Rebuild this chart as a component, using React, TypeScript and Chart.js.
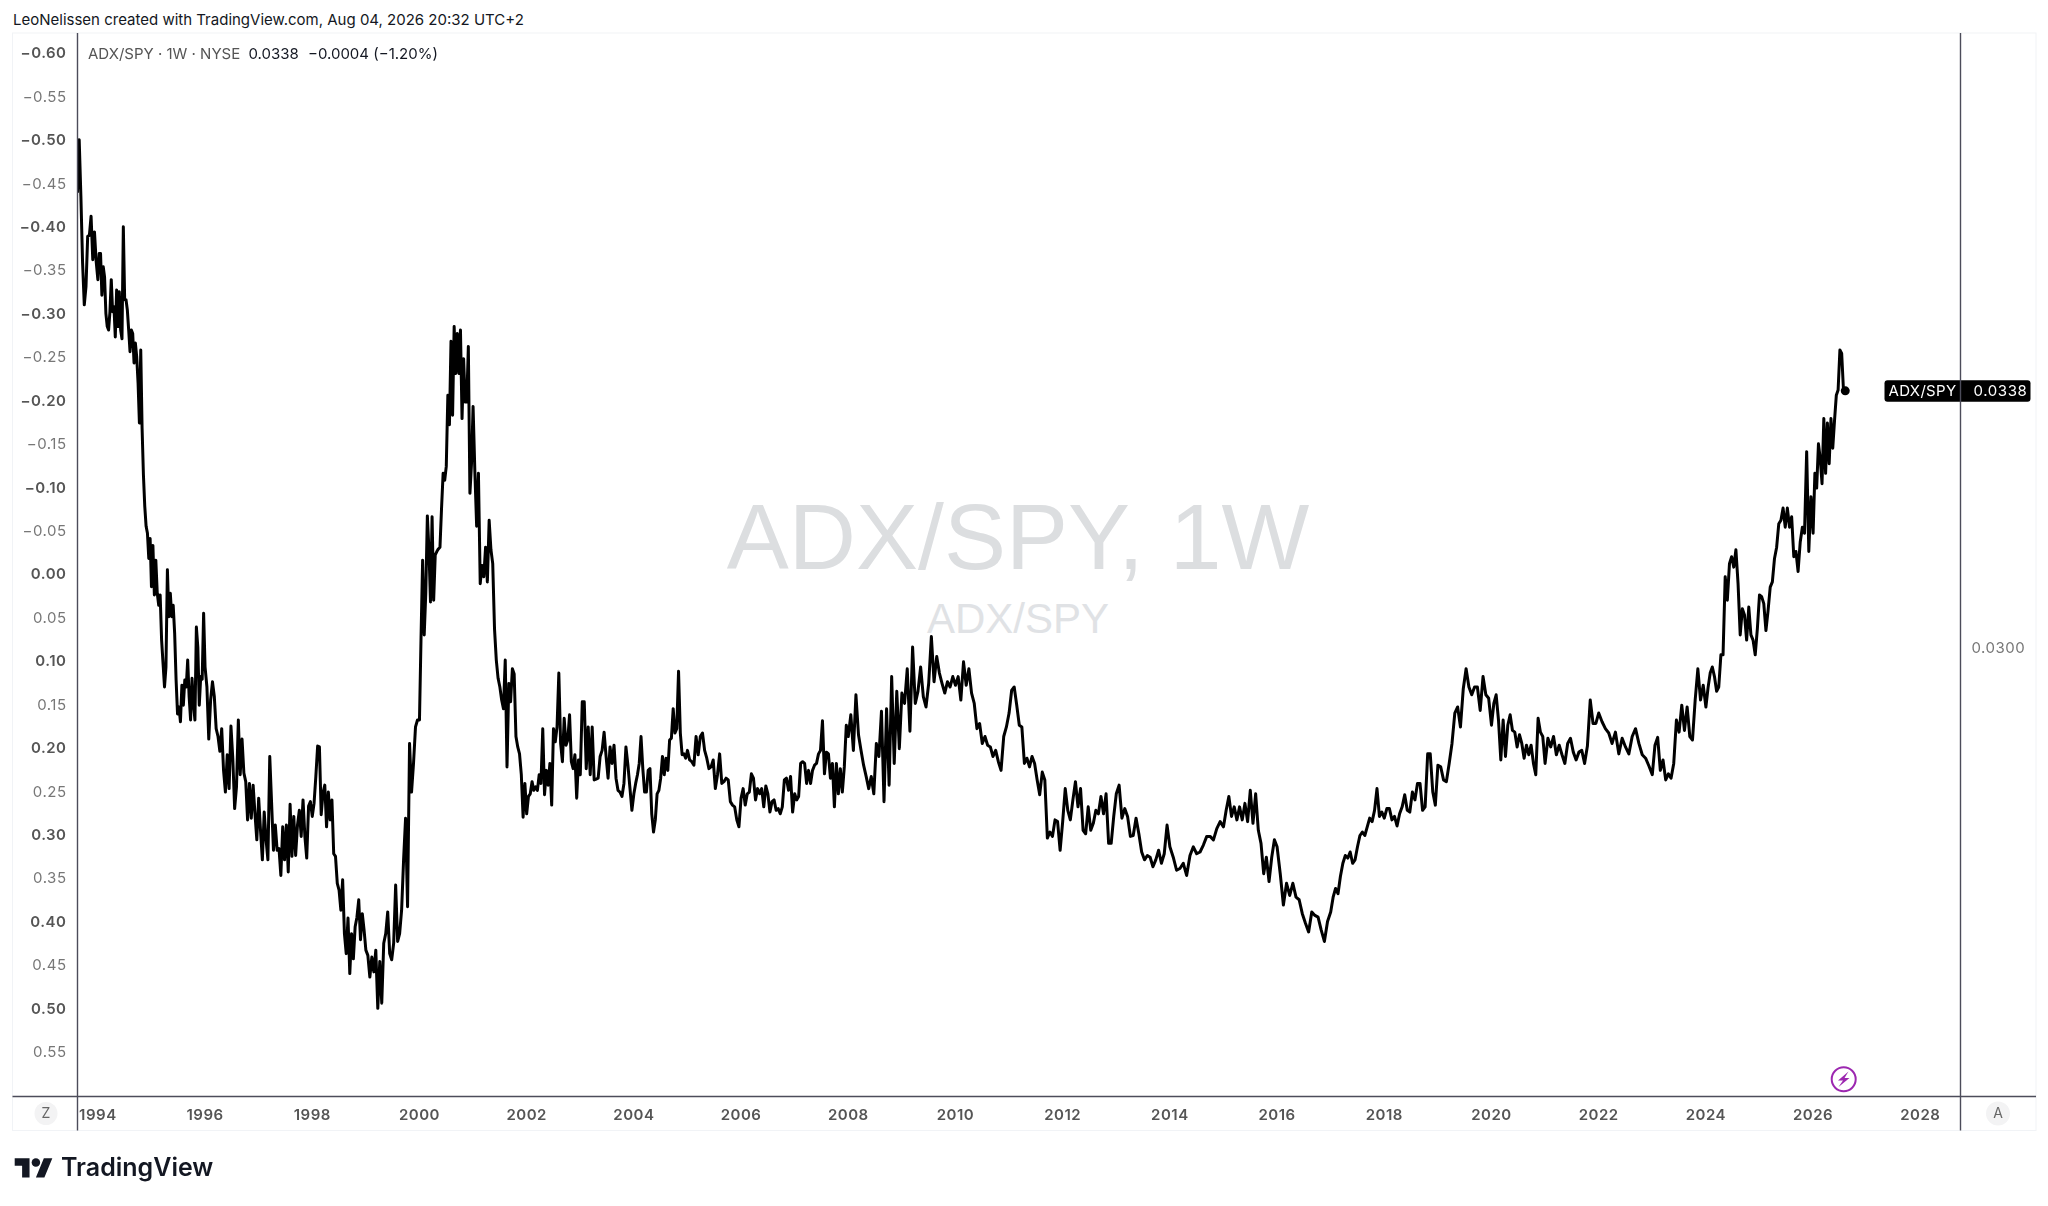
import React, { useEffect, useRef } from "react";
import { Chart, registerables } from "chart.js";

Chart.register(...registerables);

// Weekly ADX/SPY readings on the chart's left axis, grouped by year.
const v1993 = [-.44,-.501,-.436,-.359,-.311,-.332,-.39,-.391,-.413,-.363,-.395,-.361];
const v1994 = [-.34,-.37,-.37,-.322,-.355,-.343,-.301,-.286,-.282,-.303,-.34,-.303,-.309,-.274,-.328,-.286,-.326,-.282,-.272,-.401,-.317,-.317,-.305,-.282,-.257,-.282,-.278,-.244,-.267,-.251,-.221,-.175,-.259,-.169,-.115,-.079,-.056,-.048,-.019,-.042];
const v1995 = [.0135,-.034,.023,-.017,.021,.035,.023,.075,.102,.129,.106,-.006,.048,.021,.048,.035,.067,.121,.16,.152,.169,.127,.15,.121,.129,.098,.14,.167,.119,.148,.167,.06,.083,.15,.117,.12,.044];
const v1996 = [.106,.129,.189,.144,.123,.14,.177,.186,.203,.177,.225,.25,.207,.246,.174,.211,.269,.244,.167,.23,.189,.228,.238,.282,.24,.28,.242,.275,.305];
const v1997 = [.257,.294,.328,.273,.305,.328,.209,.263,.317,.288,.317,.315,.346,.29,.328,.288,.342,.264,.324,.278,.323,.288,.271,.301,.259,.301,.326,.266,.261];
const v1998 = [.278,.263,.232,.197,.198,.276,.251,.242,.29,.25,.282,.259,.321,.324,.355,.363,.386,.351,.413,.436,.395,.459,.413,.442,.405,.394,.374,.42,.39,.409];
const v1999 = [.432,.438,.463,.44,.457,.432,.499,.445,.493,.424,.413,.388,.436,.443,.424,.357,.422,.413,.386,.328,.28,.382,.194,.25,.217,.175,.167];
const v2000 = [.167,.071,-.017,.069,.021,-.068,-.029,.031,-.067,.029,-.023,-.027,-.03,-.032,-.077,-.117,-.109,-.125,-.207,-.173,-.269,-.184,-.286,-.232,-.278,-.232,-.282,-.18,-.249,-.199,-.199,-.263,-.094,-.128];
const v2001 = [-.194,-.119,-.056,-.117,.01,-.011,.002,-.032,.008,-.063,-.029,-.013,.062,.098,.119,.129,.144,.154,.098,.221,.125,.146,.108,.114,.186,.198,.206,.23,.279,.24];
const v2002 = [.275,.255,.252,.238,.248,.244,.248,.23,.24,.177,.253,.225,.242,.217,.265,.177,.192,.175,.113,.194,.215,.165,.196,.19,.161,.215,.223,.207,.257,.213];
const v2003 = [.23,.146,.146,.223,.175,.23,.175,.236,.235,.234,.209,.202,.181,.209,.234,.198,.217,.196,.234,.248,.25,.255,.24,.198,.219,.245,.271];
const v2004 = [.252,.24,.23,.217,.186,.223,.25,.25,.225,.223,.275,.296,.282,.252,.248,.234,.209,.23,.211,.225,.19,.188,.154,.182,.177,.111,.182,.207,.206,.211];
const v2005 = [.202,.213,.215,.219,.186,.207,.186,.182,.202,.211,.223,.221,.213,.246,.23,.206,.24,.238,.234,.236,.261,.265,.267,.282,.29];
const v2006 = [.257,.246,.265,.252,.25,.229,.234,.259,.246,.252,.246,.267,.243,.252,.273,.261,.259,.271,.269,.275,.267,.236,.234,.248,.232,.273];
const v2007 = [.252,.259,.255,.217,.215,.217,.24,.225,.24,.225,.219,.217,.206,.202,.168,.229,.204,.206,.234,.217,.267,.217,.252,.223,.25,.221,.173];
const v2008 = [.186,.161,.202,.138,.184,.202,.219,.232,.246,.232,.252,.194,.209,.157,.261,.154,.242,.117,.217,.134,.2];
const v2009 = [.136,.148,.108,.18,.083,.148,.134,.106,.14,.152,.125,.071,.123,.094,.113,.125,.136,.123,.129,.117];
const v2010 = [.127,.117,.144,.1,.127,.108,.136,.148,.177,.171,.194,.186,.196,.198,.209,.202,.215,.225,.186,.175];
const v2011 = [.159,.133,.129,.15,.173,.175,.217,.211,.221,.209,.217,.236,.253,.227,.236,.303,.296,.301,.282,.284,.317];
const v2012 = [.284,.246,.271,.282,.259,.238,.267,.246,.294,.298,.267,.294,.286,.271,.275,.255,.275,.252,.309,.309,.278];
const v2013 = [.252,.242,.28,.269,.278,.301,.3,.28,.298,.319,.328,.323,.325,.336,.328,.317,.332,.321,.288];
const v2014 = [.313,.325,.34,.338,.332,.346,.323,.313,.321,.319,.311,.301,.301,.305,.292,.284];
const v2015 = [.29,.271,.255,.278,.267,.282,.267,.282,.263,.284,.248,.286,.252,.294,.309,.344,.325,.353,.325,.305];
const v2016 = [.313,.344,.38,.355,.369,.355,.371,.374,.39,.401,.411,.388,.392,.394,.409,.422,.399];
const v2017 = [.388,.371,.361,.367,.347,.332,.323,.326,.319,.332,.328,.313,.3,.296,.3,.29,.28,.284,.271,.246,.278,.273];
const v2018 = [.28,.269,.269,.282,.278,.289,.275,.267,.253,.271,.273,.25,.259,.24,.24,.271,.267,.206,.206,.25,.265];
const v2019 = [.219,.221,.236,.238,.217,.194,.159,.152,.175,.131,.108,.129,.138,.129,.129,.156,.117,.138,.142];
const v2020 = [.173,.148,.138,.167,.213,.167,.209,.173,.161,.179,.181,.198,.184,.194,.211,.196,.207,.196,.217,.23,.165,.181,.186];
const v2021 = [.217,.188,.198,.186,.207,.196,.207,.217,.194,.188,.204,.213,.204,.202,.217,.197,.144,.171,.171];
const v2022 = [.159,.169,.177,.182,.194,.181,.206,.188,.198,.206,.186,.177,.194,.207,.211,.22];
const v2023 = [.23,.196,.187,.225,.213,.236,.229,.234,.217,.167,.181,.15,.179,.152,.186,.19,.144,.108,.144,.127];
const v2024 = [.152,.13,.113,.106,.117,.134,.129,.092,.092,.002,.029,-.013,-.021,-.009,-.029,.01,.069,.039,.046,.075,.037,.069,.075,.092,.062];
const v2025 = [.023,.025,.033,.064,.041,.014,.008,-.019,-.032,-.059,-.063,-.077,-.055,-.077,-.055,-.067,-.021,-.027,-.004,-.038,-.055,-.048,-.142,-.027,-.09];
const v2026 = [-.048,-.117,-.1,-.151,-.134,-.105,-.18,-.117,-.175,-.128,-.18,-.146,-.178,-.207,-.213,-.259,-.255,-.213,-.212];

const yearlyValues: [number, number[]][] = [
  [1993, v1993],[1994, v1994],[1995, v1995],[1996, v1996],[1997, v1997],[1998, v1998],[1999, v1999],
  [2000, v2000],[2001, v2001],[2002, v2002],[2003, v2003],[2004, v2004],[2005, v2005],[2006, v2006],
  [2007, v2007],[2008, v2008],[2009, v2009],[2010, v2010],[2011, v2011],[2012, v2012],[2013, v2013],
  [2014, v2014],[2015, v2015],[2016, v2016],[2017, v2017],[2018, v2018],[2019, v2019],[2020, v2020],
  [2021, v2021],[2022, v2022],[2023, v2023],[2024, v2024],[2025, v2025],[2026, v2026],
];

const firstDate = 1993.62;
const lastDate = 2026.6;
const yearTicks = [1994,1996,1998,2000,2002,2004,2006,2008,2010,2012,2014,2016,2018,2020,2022,2024,2026,2028];
const leftTicks = [-.6,-.55,-.5,-.45,-.4,-.35,-.3,-.25,-.2,-.15,-.1,-.05,0,.05,.1,.15,.2,.25,.3,.35,.4,.45,.5,.55];
const rightTicks = [0.03];
const lastPriceText = "0.0338";
const symbol = "ADX/SPY";

const points: { x: number; y: number }[] = [];
for (const [year, values] of yearlyValues) {
  values.forEach((y, i) => {
    let x = year + i / values.length;
    if (year === 1993) x = firstDate + (i / values.length) * (1994 - firstDate);
    if (year === 2026) x = 2026 + (i / (values.length - 1)) * (lastDate - 2026);
    points.push({ x, y });
  });
}

const AXIS = "#4c4c5a";
const FONT = "Inter, 'Noto Sans', sans-serif";
const isBoldTick = (c: any) => Math.abs(Math.round((c?.tick?.value ?? 0) * 20)) % 2 === 0;

const chromePlugin = {
  id: "chrome",
  beforeDraw(chart: any) {
    const { ctx, chartArea: a } = chart;
    const outerL = a.left - 65, outerR = a.right + 75.5, outerB = a.bottom + 34;
    ctx.save();
    ctx.strokeStyle = "#f1f3f6";
    ctx.lineWidth = 1;
    ctx.strokeRect(outerL, a.top, outerR - outerL, outerB - a.top);
    ctx.restore();
    ctx.letterSpacing = "0.5px";
  },
  afterDraw(chart: any) {
    const { ctx, chartArea: a } = chart;
    const outerL = a.left - 65, outerR = a.right + 75.5, outerB = a.bottom + 34;
    const yLast = chart.scales.y.getPixelForValue(points[points.length - 1].y);
    ctx.save();
    // last-price label
    ctx.fillStyle = "#000";
    ctx.beginPath();
    ctx.roundRect(a.right - 76, yLast - 10.5, 146, 21.5, 3);
    ctx.fill();
    ctx.fillStyle = "#fff";
    ctx.font = `15px ${FONT}`;
    ctx.textAlign = "center";
    ctx.textBaseline = "middle";
    ctx.letterSpacing = "0.3px";
    ctx.fillText(symbol, a.right - 38, yLast + 0.5);
    ctx.letterSpacing = "0.6px";
    ctx.fillText(lastPriceText, a.right + 40, yLast + 0.5);
    // axis lines
    ctx.strokeStyle = AXIS;
    ctx.lineWidth = 1.4;
    ctx.beginPath();
    ctx.moveTo(a.left, a.top); ctx.lineTo(a.left, outerB);
    ctx.moveTo(a.right, a.top); ctx.lineTo(a.right, outerB);
    ctx.moveTo(outerL, a.bottom); ctx.lineTo(outerR, a.bottom);
    ctx.stroke();
    ctx.restore();
    ctx.letterSpacing = "0px";
  },
};

const txt = (s: React.CSSProperties): React.CSSProperties => ({
  position: "absolute",
  whiteSpace: "nowrap",
  fontFamily: FONT,
  lineHeight: 1,
  ...s,
});

export default function App() {
  const ref = useRef<HTMLCanvasElement>(null);
  useEffect(() => {
    const chart = new Chart(ref.current!, {
      type: "line",
      data: {
        datasets: [
          {
            label: symbol,
            data: points,
            borderColor: "#000",
            borderWidth: 3,
            borderJoinStyle: "round",
            tension: 0,
            pointRadius: (c: any) => (c.dataIndex === points.length - 1 ? 4.5 : 0),
            pointBackgroundColor: "#000",
            pointBorderWidth: 0,
            yAxisID: "y",
            xAxisID: "x",
          },
        ],
      },
      options: {
        animation: false,
        responsive: false,
        devicePixelRatio: 1,
        parsing: false,
        normalized: true,
        layout: { padding: { left: 12.5, right: 12, top: 33, bottom: 75.5 } },
        plugins: { legend: { display: false }, tooltip: { enabled: false }, title: { display: false } },
        scales: {
          x: {
            type: "linear",
            min: firstDate,
            max: 2028.75,
            afterBuildTicks: (s: any) => { s.ticks = yearTicks.map((value) => ({ value })); },
            afterFit: (s: any) => { s.height = 34; },
            grid: { display: false, drawTicks: false },
            border: { display: false },
            ticks: {
              autoSkip: false,
              maxRotation: 0,
              padding: 10,
              color: "#555",
              font: { family: FONT, size: 15, weight: "600" },
              callback: (v: any) => String(v),
            },
          },
          y: {
            type: "linear",
            position: "left",
            reverse: true,
            min: -0.624,
            max: 0.6005,
            afterBuildTicks: (s: any) => { s.ticks = leftTicks.map((value) => ({ value })); },
            afterFit: (s: any) => { s.width = 65; },
            grid: { display: false, drawTicks: false },
            border: { display: false },
            ticks: {
              autoSkip: false,
              padding: 11,
              color: (c: any) => (isBoldTick(c) ? "#555" : "#777"),
              font: (c: any) => ({ family: FONT, size: 15, weight: isBoldTick(c) ? "600" : "400" }),
              callback: (v: any) => (Number(v) < 0 ? "\u2212" : "") + Math.abs(Number(v)).toFixed(2),
            },
          },
          y1: {
            type: "linear",
            position: "right",
            min: 0.023369,
            max: 0.039093,
            afterBuildTicks: (s: any) => { s.ticks = rightTicks.map((value) => ({ value })); },
            afterFit: (s: any) => { s.width = 75.5; },
            grid: { display: false, drawTicks: false },
            border: { display: false },
            ticks: {
              padding: 11,
              color: "#777",
              font: { family: FONT, size: 15 },
              callback: (v: any) => Number(v).toFixed(4),
            },
          },
        },
      } as any,
      plugins: [chromePlugin],
    } as any);
    return () => chart.destroy();
  }, []);

  return (
    <div style={{ position: "fixed", left: 0, top: 0, width: 2048, height: 1206, background: "#fff", overflow: "hidden" }}>
      <span style={txt({ left: 13, top: 12, fontSize: 15, color: "#131722" })}>
        LeoNelissen created with TradingView.com, Aug 04, 2026 20:32 UTC+2
      </span>
      <span style={txt({ left: 718, top: 491, width: 600, textAlign: "center", fontSize: 93, color: "#dcdee0", fontFamily: "'Liberation Sans', sans-serif" })}>
        ADX/SPY, 1W
      </span>
      <span style={txt({ left: 878, top: 598, width: 280, textAlign: "center", fontSize: 42, color: "#e0e2e5", fontFamily: "'Liberation Sans', sans-serif" })}>
        ADX/SPY
      </span>
      <canvas ref={ref} width={2048} height={1206} style={{ position: "absolute", left: 0, top: 0, width: 2048, height: 1206 }} />
      <span style={txt({ left: 88, top: 46, fontSize: 15, color: "#555" })}>ADX/SPY · 1W · NYSE</span>
      <span style={txt({ left: 248.5, top: 46, fontSize: 15, color: "#131722" })}>0.0338</span>
      <span style={txt({ left: 308, top: 46, fontSize: 15, color: "#131722" })}>−0.0004 (−1.20%)</span>
      <svg width={2048} height={1206} style={{ position: "absolute", left: 0, top: 0 }}>
        <circle cx={46} cy={1113.5} r={11.5} fill="#f3f3f4" />
        <circle cx={1998} cy={1113.5} r={12} fill="#f3f3f4" />
        <circle cx={1843.7} cy={1079.3} r={12} fill="none" stroke="#9c27b0" strokeWidth={2} />
        <path d="M1848.5 1071.5 L1838 1080.5 L1843 1080.5 L1838.5 1087 L1849.5 1078 L1844.5 1078 Z" fill="#9c27b0" />
        <g transform="translate(14.7 1158.3) scale(1.06)" fill="#131722">
          <path d="M14 18H7V7H0V0h14v18zM28 18h-8l7.5-18h8L28 18z" />
          <circle cx="20" cy="4" r="4" />
        </g>
      </svg>
      <span style={txt({ left: 40, top: 1106, width: 12, textAlign: "center", fontSize: 14, color: "#666" })}>Z</span>
      <span style={txt({ left: 1992, top: 1106, width: 12, textAlign: "center", fontSize: 14, color: "#666" })}>A</span>
      <span style={txt({ left: 61, top: 1155, fontSize: 25, fontWeight: 600, letterSpacing: "0px", color: "#131722" })}>TradingView</span>
    </div>
  );
}
